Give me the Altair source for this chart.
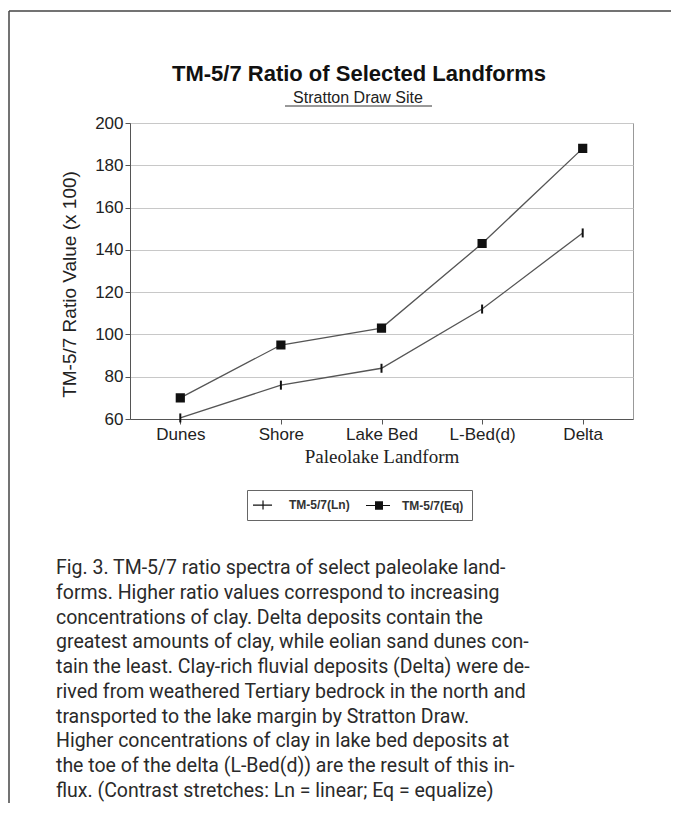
import altair as alt
import pandas as pd

categories = ["Dunes", "Shore", "Lake Bed", "L-Bed(d)", "Delta"]
ln_values = [60.5, 76, 84, 112, 148]
eq_values = [70, 95, 103, 143, 188]
series_names = ["TM-5/7(Ln)", "TM-5/7(Eq)"]
y_ticks = [60, 80, 100, 120, 140, 160, 180, 200]
title_text = "TM-5/7 Ratio of Selected Landforms"
subtitle_text = "Stratton Draw Site"
x_title = "Paleolake Landform"
y_title = "TM-5/7 Ratio Value (x 100)"
caption_lines = [
    "Fig. 3. TM-5/7 ratio spectra of select paleolake land-",
    "forms. Higher ratio values correspond to increasing",
    "concentrations of clay. Delta deposits contain the",
    "greatest amounts of clay, while eolian sand dunes con-",
    "tain the least. Clay-rich fluvial deposits (Delta) were de-",
    "rived from weathered Tertiary bedrock in the north and",
    "transported to the lake margin by Stratton Draw.",
    "Higher concentrations of clay in lake bed deposits at",
    "the toe of the delta (L-Bed(d)) are the result of this in-",
    "flux. (Contrast stretches: Ln = linear; Eq = equalize)",
]

rows = []
for name, vals in zip(series_names, [ln_values, eq_values]):
    for c, v in zip(categories, vals):
        rows.append({"landform": c, "series": name, "value": v})
df = pd.DataFrame(rows)
cap_df = pd.DataFrame({"i": list(range(len(caption_lines))), "t": caption_lines})

tick_path = "M0,-1V1"
square_path = "M-0.8,-0.8H0.8V0.8H-0.8Z"
leg_ln = "M-1.5,0H1.67M0.17,-0.75V0.75"
leg_eq = ("M-1.5,0H2.5M0,-0.6H1.33M0,-0.4H1.33M0,-0.2H1.33M0,0H1.33"
          "M0,0.2H1.33M0,0.4H1.33M0,0.6H1.33")

x_enc = alt.X(
    "landform:N", sort=categories,
    scale=alt.Scale(type="point", padding=0.5),
    axis=alt.Axis(title=x_title, labelAngle=0, labelFont="Liberation Sans", labelFontSize=17,
                  labelColor="#222", titleFont="Liberation Serif", titleFontSize=19,
                  titleFontWeight="normal", titleColor="#222", tickSize=5, tickColor="#555",
                  domainColor="#555", labelPadding=2, titlePadding=5, grid=False),
)
y_enc = alt.Y(
    "value:Q",
    scale=alt.Scale(domain=[60, 200], nice=False, zero=False),
    axis=alt.Axis(values=y_ticks, title=y_title, labelFont="Liberation Sans", labelFontSize=17,
                  labelColor="#222", titleFont="Liberation Sans", titleFontSize=19,
                  titleFontWeight="normal", titleColor="#222", tickSize=5, tickColor="#555",
                  domainColor="#555", labelPadding=2, titlePadding=15, titleY=161,
                  grid=True, gridColor="#c8c8c8", gridWidth=1),
)

base = alt.Chart(df)
lines = base.mark_line(color="#555", strokeWidth=1.3).encode(x=x_enc, y=y_enc, detail="series:N")
points = base.mark_point(filled=True, fill="#111", stroke="#111", strokeWidth=2, size=81, opacity=1).encode(
    x=x_enc, y=y_enc,
    shape=alt.Shape("series:N", scale=alt.Scale(domain=series_names, range=[tick_path, square_path]), legend=None),
)
data_layers = alt.layer(lines, points)

legend_layer = base.transform_filter("false").mark_point(
    filled=False, color="#111", strokeWidth=1.2, opacity=1
).encode(
    shape=alt.Shape(
        "series:N",
        scale=alt.Scale(domain=series_names, range=[leg_ln, leg_eq]),
        legend=alt.Legend(
            title=None, orient="none", legendX=117, legendY=367, direction="horizontal",
            columns=2, padding=8, strokeColor="#666", fillColor="white",
            symbolSize=144, symbolStrokeColor="#111", symbolStrokeWidth=1.2,
            labelFont="Liberation Sans", labelFontSize=12, labelFontWeight="bold",
            labelColor="#333", labelOffset=20, columnPadding=13,
        ),
    ),
)

one = alt.Data(values=[{"t": 1}])
title_mark = alt.Chart(alt.Data(values=[{"t": title_text}])).mark_text(
    font="Liberation Sans", fontSize=22, fontWeight="bold", color="#111", align="center", baseline="alphabetic"
).encode(text="t:N", x=alt.value(229), y=alt.value(-42))
subtitle_mark = alt.Chart(alt.Data(values=[{"t": subtitle_text}])).mark_text(
    font="Liberation Sans", fontSize=16, color="#222", align="center", baseline="alphabetic"
).encode(text="t:N", x=alt.value(228), y=alt.value(-20))
underline = alt.Chart(one).mark_rule(color="#333", strokeWidth=1).encode(
    x=alt.value(155), x2=alt.value(302), y=alt.value(-17))
frame_top = alt.Chart(one).mark_rule(color="#444", strokeWidth=1.5).encode(
    x=alt.value(-121), x2=alt.value(541), y=alt.value(-112))
frame_left = alt.Chart(one).mark_rule(color="#444", strokeWidth=1.5).encode(
    x=alt.value(-121), y=alt.value(-112), y2=alt.value(680))

caption = alt.Chart(cap_df).mark_text(
    font="Roboto", fontSize=19.5, color="#2a2a2a", align="left", baseline="alphabetic"
).encode(
    text="t:N", x=alt.value(-74),
    y=alt.Y("i:Q", scale=alt.Scale(domain=[0, 9], range=[451, 674]), axis=None),
)

chart = alt.layer(
    data_layers, legend_layer, caption, title_mark, subtitle_mark, underline, frame_top, frame_left
).resolve_scale(
    y="independent", shape="independent"
).properties(
    width=503, height=296, padding={"left": 0, "top": 2, "right": 0, "bottom": 0}, background="white"
).configure_view(stroke="#999", strokeWidth=1)

chart.save("out.html", embed_options={"renderer": "svg", "actions": False})
